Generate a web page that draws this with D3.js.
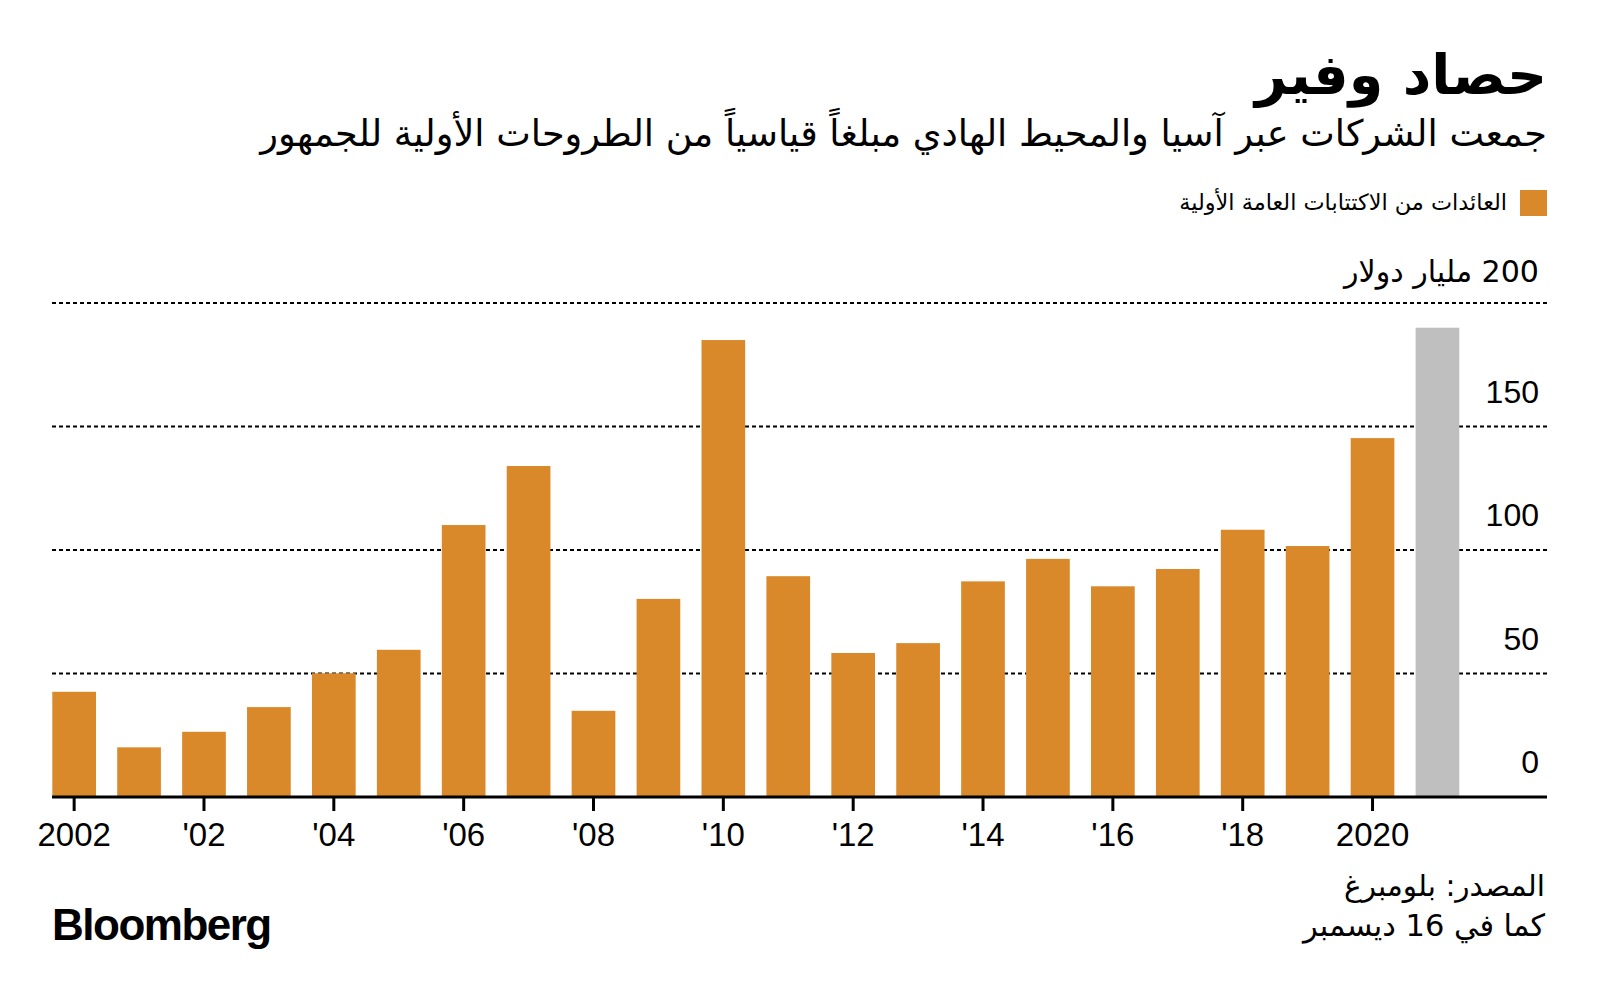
<!DOCTYPE html>
<html><head><meta charset="utf-8">
<script src="https://cdn.jsdelivr.net/npm/d3@7"></script>
<style>body{margin:0;background:#fff} svg{display:block}</style>
</head><body><svg id="c" width="1600" height="1006"></svg>
<script>
// ---- data ----
const years = ["2000","2001","2002","2003","2004","2005","2006","2007","2008","2009","2010","2011","2012","2013","2014","2015","2016","2017","2018","2019","2020","2021"];
const ipoProceeds = [42.6,20.1,26.4,36.4,50.1,59.6,110.1,134.0,34.9,80.2,185.0,89.4,58.3,62.3,87.3,96.4,85.3,92.3,108.2,101.6,145.3,190.0];
const partialYear = "2021";
const xTickYears = ["2000","2002","2004","2006","2008","2010","2012","2014","2016","2018","2020"];
const xTickLabels = ["2002","'02","'04","'06","'08","'10","'12","'14","'16","'18","2020"];
const yTicks = [0,50,100,150,200];
const yTopLabel = "200 مليار دولار";
const title = "حصاد وفير";
const subtitle = "جمعت الشركات عبر آسيا والمحيط الهادي مبلغاً قياسياً من الطروحات الأولية للجمهور";
const legendLabel = "العائدات من الاكتتابات العامة الأولية";
const sourceLines = ["المصدر: بلومبرغ","كما في 16 ديسمبر"];

// ---- layout ----
const svg = d3.select("#c");
const plotLeft = 52, plotRight = 1547;
const arFont = "'DejaVu Sans', sans-serif";
const numFont = "'Liberation Sans', Arial, sans-serif";
const orange = "#d9892a", grey = "#bfbfbf";

const x = d3.scaleBand().domain(years).range([52.3, 1459.3]).paddingInner(0.327).paddingOuter(0);
const y = d3.scaleLinear().domain([0, 200]).range([797, 303]);

function fit(sel, w) {
  const l = sel.node().getComputedTextLength();
  const fs = parseFloat(sel.attr("font-size"));
  sel.attr("font-size", fs * w / l);
}

// title etc
const t = svg.append("text").attr("x", 1547).attr("y", 94).attr("direction","rtl").attr("text-anchor","start")
  .attr("font-family", arFont).attr("font-weight","bold").attr("font-size", 56).attr("fill","#000").text(title);
fit(t, 292);
const st = svg.append("text").attr("x", 1547).attr("y", 146).attr("direction","rtl").attr("text-anchor","start")
  .attr("font-family", arFont).attr("font-size", 32).attr("fill","#000").text(subtitle);
fit(st, 1287);

// legend
svg.append("rect").attr("x", 1520).attr("y", 190).attr("width", 27).attr("height", 26).attr("fill", orange);
const lt = svg.append("text").attr("x", 1507).attr("y", 210).attr("direction","rtl").attr("text-anchor","start")
  .attr("font-family", arFont).attr("font-size", 20).attr("fill","#000").text(legendLabel);
fit(lt, 328);

// gridlines
svg.append("g").selectAll("line").data(yTicks.filter(d => d > 0)).join("line")
  .attr("x1", plotLeft).attr("x2", plotRight).attr("y1", d => y(d)).attr("y2", d => y(d))
  .attr("stroke", "#000").attr("stroke-width", 2).attr("stroke-dasharray", "4,3");

// y labels
svg.append("g").selectAll("text").data(yTicks.filter(d => d < 200)).join("text")
  .attr("x", 1539).attr("y", d => y(d) - 24).attr("text-anchor","end")
  .attr("font-family", numFont).attr("font-size", 32).attr("fill","#000").text(d => d);
const yl = svg.append("text").attr("x", 1539).attr("y", y(200) - 21).attr("direction","rtl").attr("text-anchor","start")
  .attr("font-family", arFont).attr("font-size", 30).attr("fill","#000").text(yTopLabel);
fit(yl, 195);

// bars
svg.append("g").selectAll("rect").data(years).join("rect")
  .attr("x", d => x(d)).attr("width", x.bandwidth())
  .attr("y", (d,i) => y(ipoProceeds[i])).attr("height", (d,i) => y(0) - y(ipoProceeds[i]))
  .attr("fill", d => d === partialYear ? grey : orange);

// x axis
const xAxis = d3.axisBottom(x).tickValues(xTickYears)
  .tickFormat(d => xTickLabels[xTickYears.indexOf(d)]).tickSize(14).tickPadding(12);
const gx = svg.append("g").attr("transform", `translate(0,${y(0)})`).call(xAxis);
gx.select(".domain").remove();
gx.selectAll(".tick line").attr("stroke","#000").attr("stroke-width",3);
gx.selectAll(".tick text").attr("font-family", numFont).attr("font-size", 33).attr("fill","#000");
svg.append("line").attr("x1", plotLeft).attr("x2", plotRight).attr("y1", y(0)).attr("y2", y(0))
  .attr("stroke","#000").attr("stroke-width",3);

// source
const sourceWidths = [201, 242];
sourceLines.forEach((s, i) => {
  const st = svg.append("text").attr("x", 1545).attr("y", 896 + i * 40).attr("direction","rtl").attr("text-anchor","start")
    .attr("font-family", arFont).attr("font-size", 28).attr("fill","#000").text(s);
  fit(st, sourceWidths[i]);
});

// logo
svg.append("text").attr("x", 52).attr("y", 940).attr("font-family", numFont).attr("font-weight","bold")
  .attr("font-size", 44).attr("letter-spacing", -1.5).attr("fill","#000").text("Bloomberg");
</script></body></html>
